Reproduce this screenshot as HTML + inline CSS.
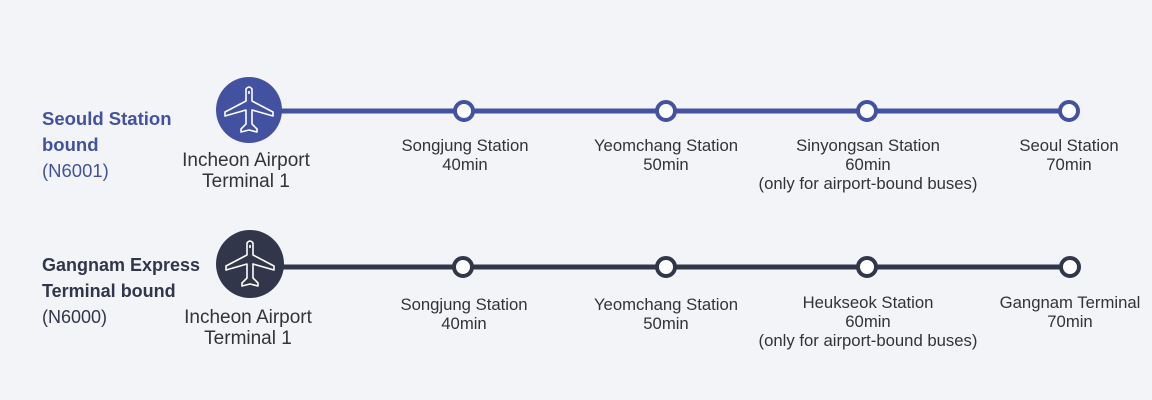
<!DOCTYPE html>
<html><head><meta charset="utf-8">
<style>
html,body{margin:0;padding:0;}
body{width:1152px;height:400px;background:#f2f4f8;position:relative;overflow:hidden;font-family:"Liberation Sans",sans-serif;}
.t{position:absolute;text-align:center;color:#333;font-size:16.7px;line-height:19px;white-space:nowrap;transform:translateX(-50%);}
.big{font-size:19px;line-height:21px;}
.lbl{position:absolute;left:42px;font-weight:bold;font-size:18px;line-height:26px;white-space:nowrap;}
</style></head><body>
<svg width="1152" height="400" style="position:absolute;left:0;top:0">
  <defs>
    <g id="plane" fill="none" stroke="#fff" stroke-width="1.6" stroke-linejoin="round">
      <path d="M-3,-21 Q0,-25 3,-21 L3,-9 L24,2 L24,6 L3,0 L3,14 L8,19 L8,22 L0,20 L-8,22 L-8,19 L-3,14 L-3,0 L-24,6 L-24,2 L-3,-9 Z"/>
      <line x1="0" y1="-19" x2="0" y2="-16"/>
    </g>
  </defs>
  <line x1="250" y1="111" x2="1069" y2="111" stroke="#4352a0" stroke-width="5"/>
  <circle cx="249" cy="110" r="33" fill="#4352a0"/>
  <use href="#plane" x="249" y="110"/>
  <g fill="#fff" stroke="#4352a0" stroke-width="4">
    <circle cx="464" cy="111" r="9"/><circle cx="666" cy="111" r="9"/>
    <circle cx="867" cy="111" r="9"/><circle cx="1069" cy="111" r="9"/>
  </g>
  <line x1="250" y1="267" x2="1070" y2="267" stroke="#31364a" stroke-width="5"/>
  <circle cx="250" cy="264" r="34" fill="#31364a"/>
  <use href="#plane" x="250" y="264"/>
  <g fill="#fff" stroke="#31364a" stroke-width="4">
    <circle cx="463" cy="267" r="9"/><circle cx="666" cy="267" r="9"/>
    <circle cx="867" cy="267" r="9"/><circle cx="1070" cy="267" r="9"/>
  </g>
</svg>
<div class="lbl" style="top:106px;color:#4352a0;font-size:18.5px">Seould Station<br>bound<br><span style="font-weight:normal">(N6001)</span></div>
<div class="lbl" style="top:252px;color:#31364a">Gangnam Express<br>Terminal bound<br><span style="font-weight:normal">(N6000)</span></div>

<div class="t big" style="left:246px;top:150px">Incheon Airport<br>Terminal 1</div>
<div class="t" style="left:465px;top:136px">Songjung Station<br>40min</div>
<div class="t" style="left:666px;top:136px">Yeomchang Station<br>50min</div>
<div class="t" style="left:868px;top:136px">Sinyongsan Station<br>60min<br>(only for airport-bound buses)</div>
<div class="t" style="left:1069px;top:136px">Seoul Station<br>70min</div>

<div class="t big" style="left:248px;top:307px">Incheon Airport<br>Terminal 1</div>
<div class="t" style="left:464px;top:295px">Songjung Station<br>40min</div>
<div class="t" style="left:666px;top:295px">Yeomchang Station<br>50min</div>
<div class="t" style="left:868px;top:293px">Heukseok Station<br>60min<br>(only for airport-bound buses)</div>
<div class="t" style="left:1070px;top:293px">Gangnam Terminal<br>70min</div>
</body></html>
